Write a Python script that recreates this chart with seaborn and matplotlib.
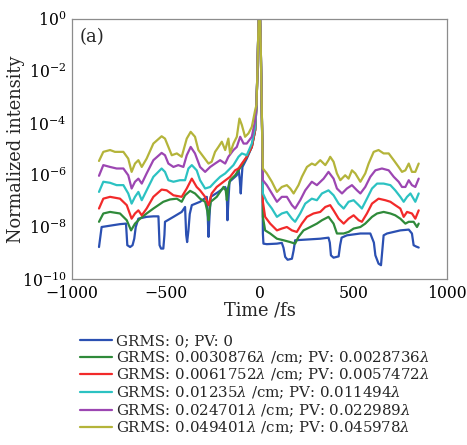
import numpy as np
import pandas as pd
import matplotlib
matplotlib.use("Agg")
import matplotlib.pyplot as plt
import seaborn as sns

# ---------------- data (time in fs, log10 of normalized intensity) ----------------
LABELS = [
    "GRMS: 0; PV: 0",
    r"GRMS: 0.0030876$\lambda$ /cm; PV: 0.0028736$\lambda$",
    r"GRMS: 0.0061752$\lambda$ /cm; PV: 0.0057472$\lambda$",
    r"GRMS: 0.01235$\lambda$ /cm; PV: 0.011494$\lambda$",
    r"GRMS: 0.024701$\lambda$ /cm; PV: 0.022989$\lambda$",
    r"GRMS: 0.049401$\lambda$ /cm; PV: 0.045978$\lambda$",
]
COLORS = ["#2b50b2", "#2f8a3a", "#f22a2a", "#2cc2c2", "#9c46b2", "#b4b43a"]

# shared main pulse
PEAK_T = [-16, -11, -7, -4, 3, 7, 11, 15]
PEAK_LOG = [-3.3, -2.0, -0.7, 0.05, 0.05, -1.2, -3.0, -4.8]

BLUE_LT = [-856, -842, -815, -780, -744, -712, -705, -690, -677, -668, -660, -646, -602, -566, -539, -533,
           -525, -513, -507, -504, -459, -415, -397, -391, -386, -379, -372, -361, -317, -281, -276, -272,
           -266, -260, -219, -183, -175, -171, -166, -160, -121, -112, -105, -100, -95, -91, -68, -41, -23]
BLUE_LL = [-8.77, -8.00, -7.97, -7.93, -7.89, -7.87, -8.70, -8.77, -8.70, -8.45, -8.00, -7.68, -7.61, -7.59,
           -7.59, -8.70, -8.83, -8.83, -8.30, -7.80, -7.61, -7.42, -7.23, -8.30, -8.58, -8.13, -7.50, -7.16,
           -7.03, -6.84, -7.60, -8.38, -7.50, -6.84, -6.65, -6.46, -6.60, -7.74, -7.00, -6.26, -6.01, -5.75,
           -6.20, -6.71, -6.10, -5.69, -5.37, -4.92, -4.27]
BLUE_RT = [18, 21, 39, 93, 119, 128, 137, 150, 173, 182, 190, 235, 324, 368, 375, 381, 395, 422, 430, 438,
           466, 538, 591, 610, 618, 635, 648, 655, 662, 680, 751, 796, 813, 822, 835, 849]
BLUE_RL = [-8.25, -8.64, -8.66, -8.64, -8.61, -8.80, -9.15, -9.26, -9.22, -8.90, -8.51, -8.49, -8.45, -8.41,
           -8.60, -9.09, -9.18, -9.13, -8.70, -8.41, -8.32, -8.25, -8.25, -8.60, -9.09, -9.41, -9.47, -8.90,
           -8.32, -8.25, -8.13, -8.10, -8.25, -8.70, -8.75, -8.79]

GREEN_LT = [-856, -833, -797, -744, -708, -685, -664, -637, -602, -566, -513, -477, -441, -415, -397, -370,
            -344, -317, -290, -278, -272, -266, -260, -228, -192, -180, -174, -168, -157, -130, -112, -94,
            -68, -41, -23]
GREEN_LL = [-7.80, -7.48, -7.42, -7.48, -7.74, -8.13, -7.87, -7.68, -7.48, -7.29, -7.03, -6.94, -6.91, -7.03,
            -6.78, -6.61, -6.71, -6.91, -7.03, -7.40, -7.74, -7.30, -7.03, -6.84, -6.46, -6.60, -6.97, -6.50,
            -6.20, -6.01, -5.82, -5.62, -5.30, -4.92, -4.27]
GREEN_RT = [18, 30, 57, 93, 128, 164, 190, 208, 235, 271, 306, 333, 368, 395, 413, 449, 475, 502, 538, 564,
            600, 627, 662, 698, 724, 751, 778, 796, 822, 840, 849]
GREEN_RL = [-7.61, -8.13, -8.25, -8.45, -8.51, -8.58, -8.64, -8.38, -8.13, -8.00, -7.87, -7.74, -7.61, -7.87,
            -8.25, -8.25, -8.19, -8.06, -8.00, -7.87, -7.61, -7.48, -7.42, -7.48, -7.55, -7.68, -7.87, -7.80,
            -7.80, -8.00, -7.87]

RED_LT = [-856, -833, -797, -744, -708, -682, -664, -646, -628, -602, -566, -522, -495, -459, -415, -388, -361,
          -335, -317, -290, -272, -255, -228, -192, -157, -130, -112, -94, -68, -41, -23]
RED_LL = [-7.29, -6.91, -6.84, -6.91, -7.16, -7.68, -7.48, -7.36, -7.55, -7.29, -6.84, -6.56, -6.59, -6.78,
          -6.84, -6.52, -6.14, -6.46, -6.59, -6.84, -7.16, -6.71, -6.46, -6.26, -6.07, -5.82, -5.75, -5.56,
          -5.30, -4.92, -4.27]
RED_RT = [18, 30, 57, 93, 119, 146, 173, 199, 226, 253, 288, 324, 351, 377, 395, 422, 449, 475, 502, 529, 546,
          573, 600, 635, 671, 698, 724, 751, 769, 787, 813, 831, 849]
RED_RL = [-7.03, -7.61, -7.87, -8.13, -8.06, -8.00, -8.13, -8.19, -7.87, -7.61, -7.48, -7.42, -7.23, -7.16,
          -7.36, -7.68, -7.87, -7.68, -7.55, -7.74, -7.80, -7.48, -7.10, -6.91, -6.97, -7.03, -7.16, -7.29,
          -7.61, -7.42, -7.48, -7.68, -7.36]

CYAN_LT = [-856, -833, -797, -762, -726, -700, -682, -664, -646, -628, -602, -566, -522, -504, -486, -459, -424,
           -397, -379, -361, -335, -317, -290, -263, -237, -210, -183, -157, -139, -112, -94, -68, -41, -23]
CYAN_LL = [-6.65, -6.26, -6.30, -6.39, -6.39, -6.71, -7.10, -6.84, -6.65, -6.97, -6.59, -6.07, -5.75, -5.88,
           -6.20, -6.26, -6.20, -6.20, -5.75, -5.62, -5.82, -6.20, -6.52, -6.46, -6.26, -6.07, -5.94, -5.75,
           -5.62, -5.30, -5.17, -5.24, -4.79, -4.15]
CYAN_RT = [18, 39, 66, 93, 119, 146, 173, 190, 217, 244, 279, 306, 333, 368, 395, 422, 449, 475, 502, 529, 546,
           573, 600, 627, 662, 698, 724, 751, 769, 787, 805, 831, 849]
CYAN_RL = [-6.71, -7.03, -7.29, -7.61, -7.48, -7.42, -7.68, -7.80, -7.48, -7.10, -6.91, -6.97, -6.71, -6.59,
           -6.78, -7.10, -7.29, -7.03, -6.97, -7.16, -7.29, -6.91, -6.52, -6.33, -6.33, -6.39, -6.59, -6.84,
           -7.03, -6.84, -6.71, -7.03, -6.71]

PURPLE_LT = [-856, -833, -797, -762, -726, -700, -682, -664, -646, -628, -602, -566, -522, -504, -486, -459,
             -433, -406, -388, -367, -344, -317, -290, -263, -237, -210, -183, -166, -139, -121, -103, -85, -68,
             -41, -23]
PURPLE_LL = [-6.03, -5.62, -5.69, -5.75, -5.75, -6.01, -6.52, -6.26, -6.14, -6.33, -5.94, -5.43, -5.15, -5.24,
             -5.56, -5.69, -5.62, -5.69, -5.24, -4.92, -5.17, -5.69, -5.88, -5.69, -5.56, -5.43, -5.56, -5.30,
             -5.04, -4.92, -4.53, -4.79, -4.79, -4.53, -3.89]
PURPLE_RT = [18, 39, 66, 93, 119, 146, 173, 190, 217, 244, 279, 306, 342, 368, 395, 413, 440, 466, 493, 520,
             538, 564, 591, 618, 653, 689, 716, 742, 760, 778, 796, 813, 831, 849]
PURPLE_RL = [-6.20, -6.39, -6.71, -7.03, -6.84, -6.84, -7.16, -7.29, -6.97, -6.59, -6.26, -6.39, -6.14, -5.88,
             -6.14, -6.52, -6.71, -6.52, -6.39, -6.59, -6.71, -6.46, -6.07, -5.82, -5.75, -5.82, -6.07, -6.26,
             -6.46, -6.46, -6.20, -6.39, -6.46, -6.14]

YELLOW_LT = [-856, -833, -797, -771, -726, -700, -682, -664, -646, -628, -602, -566, -522, -504, -486, -468,
             -441, -415, -388, -367, -344, -326, -299, -272, -255, -237, -219, -201, -183, -166, -157, -139,
             -121, -107, -94, -77, -59, -41, -23]
YELLOW_LL = [-5.46, -5.11, -5.04, -5.11, -5.11, -5.37, -5.88, -5.56, -5.43, -5.69, -5.37, -4.79, -4.51, -4.60,
             -4.92, -5.24, -5.17, -5.30, -4.60, -4.34, -4.53, -5.04, -5.30, -5.56, -5.49, -5.11, -4.92, -4.72,
             -5.04, -4.60, -5.17, -4.79, -4.53, -3.83, -4.08, -4.53, -4.40, -4.15, -3.50]
YELLOW_RT = [18, 39, 66, 93, 119, 146, 164, 182, 208, 226, 253, 279, 297, 324, 351, 368, 377, 395, 413, 431,
             457, 475, 493, 511, 538, 564, 582, 609, 635, 662, 689, 716, 742, 760, 778, 796, 813, 831, 849]
YELLOW_RL = [-5.75, -5.94, -6.26, -6.65, -6.46, -6.39, -6.52, -6.71, -6.39, -6.07, -5.69, -5.56, -5.62, -5.43,
             -5.62, -5.43, -5.30, -5.49, -5.94, -6.20, -6.01, -6.14, -5.82, -5.94, -6.26, -5.94, -5.56, -5.11,
             -5.04, -5.17, -5.17, -5.43, -5.69, -5.88, -5.82, -5.56, -5.88, -5.88, -5.56]

SERIES = [
    (BLUE_LT, BLUE_LL, BLUE_RT, BLUE_RL),
    (GREEN_LT, GREEN_LL, GREEN_RT, GREEN_RL),
    (RED_LT, RED_LL, RED_RT, RED_RL),
    (CYAN_LT, CYAN_LL, CYAN_RT, CYAN_RL),
    (PURPLE_LT, PURPLE_LL, PURPLE_RT, PURPLE_RL),
    (YELLOW_LT, YELLOW_LL, YELLOW_RT, YELLOW_RL),
]

X_TICKS = [-1000, -500, 0, 500, 1000]
X_TICKLABELS = ["\u22121000", "\u2212500", "0", "500", "1000"]
Y_TICKS = [1e-10, 1e-8, 1e-6, 1e-4, 1e-2, 1e0]

# ---------------- build table ----------------
rows = []
for lab, (lt, ll, rt, rl) in zip(LABELS, SERIES):
    t = list(lt) + PEAK_T + list(rt)
    lg = list(ll) + PEAK_LOG + list(rl)
    for ti, li in zip(t, lg):
        rows.append({"t": ti, "I": 10.0 ** li, "label": lab})
df = pd.DataFrame(rows)

# ---------------- plot ----------------
sns.set_style("white")
plt.rcParams["font.family"] = ["DejaVu Serif"]
plt.rcParams["mathtext.fontset"] = "dejavuserif"

fig = plt.figure(figsize=(4.67, 4.45), dpi=100)
ax = fig.add_axes([72 / 467, 1 - 279 / 445, 375 / 467, 260 / 445])

sns.lineplot(data=df, x="t", y="I", hue="label", hue_order=LABELS,
             palette=dict(zip(LABELS, COLORS)), estimator=None, sort=False,
             linewidth=1.6, ax=ax)

ax.set_yscale("log")
ax.set_xlim(-1000, 1000)
ax.set_ylim(1e-10, 1e0)
ax.set_xticks(X_TICKS)
ax.set_xticklabels(X_TICKLABELS)
ax.set_yticks(Y_TICKS)
ax.yaxis.set_minor_locator(matplotlib.ticker.NullLocator())
ax.tick_params(axis="both", which="major", direction="in", length=5, width=0.8,
               labelsize=11.3, colors="#808080", labelcolor="black", pad=4)
for s in ax.spines.values():
    s.set_color("#8c8c8c")
    s.set_linewidth(0.9)

ax.set_xlabel("Time /fs", fontsize=12.8)
ax.xaxis.set_label_coords(0.5, -0.088)
ax.set_ylabel("Normalized intensity", fontsize=12.8)
ax.yaxis.set_label_coords(-0.125, 0.5)
ax.text(0.02, 0.965, "(a)", transform=ax.transAxes, ha="left", va="top", fontsize=13)

handles, labels = ax.get_legend_handles_labels()
ax.get_legend().remove()
fig.legend(handles, labels, loc="upper left", bbox_to_anchor=(80 / 467, 1 - 334 / 445),
           frameon=False, fontsize=10.8, handlelength=2.15, handletextpad=0.28,
           labelspacing=0.085, borderpad=0, borderaxespad=0)

fig.savefig("out.png", dpi=100)
